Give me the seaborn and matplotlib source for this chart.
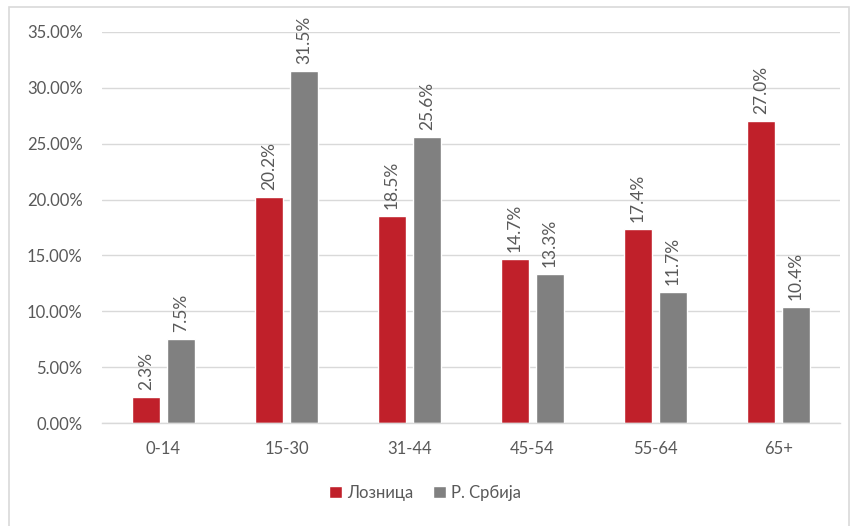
import matplotlib
matplotlib.use("Agg")
import matplotlib.pyplot as plt
from matplotlib.patches import Rectangle
from matplotlib.ticker import FuncFormatter, MultipleLocator
import seaborn as sns
import pandas as pd

# Age structure, share of population (%)
age_groups = ["0-14", "15-30", "31-44", "45-54", "55-64", "65+"]
loznica = [2.3, 20.2, 18.5, 14.7, 17.4, 27.0]
srbija = [7.5, 31.5, 25.6, 13.3, 11.7, 10.4]
series_names = ["Лозница", "Р. Србија"]
colors = ["#C0202A", "#808080"]

df = pd.DataFrame({
    "age": age_groups * 2,
    "share": loznica + srbija,
    "region": [series_names[0]] * len(age_groups) + [series_names[1]] * len(age_groups),
})

sns.set_theme(style="white")
plt.rcParams["font.family"] = ["Lato", "DejaVu Sans"]
text_color = "#595959"

fig = plt.figure(figsize=(8.5, 5.26), dpi=100)
ax = fig.add_axes([102 / 850, 1 - 423 / 526, 738 / 850, (423 - 32) / 526])

sns.barplot(data=df, x="age", y="share", hue="region", order=age_groups,
            hue_order=series_names, palette=colors, width=0.57, gap=0.2,
            saturation=1, ax=ax, legend=True)

ax.set_ylim(0, 35)
ax.yaxis.set_major_locator(MultipleLocator(5))
ax.yaxis.set_major_formatter(FuncFormatter(lambda v, _: f"{v:.2f}%"))
ax.grid(axis="y", color="#D9D9D9", linewidth=1)
ax.set_axisbelow(True)
for side in ["top", "right", "left"]:
    ax.spines[side].set_visible(False)
ax.spines["bottom"].set_color("#D9D9D9")
ax.spines["bottom"].set_linewidth(1)
ax.set_xlabel("")
ax.set_ylabel("")
ax.tick_params(axis="both", length=0, labelsize=12, colors=text_color)
ax.tick_params(axis="y", pad=14)
ax.tick_params(axis="x", pad=13)

# Value labels above each bar, rotated
for container in ax.containers:
    for bar in container:
        h = bar.get_height()
        ax.annotate(f"{h:.1f}%", (bar.get_x() + bar.get_width() / 2, h),
                    xytext=(0, 5), textcoords="offset points",
                    rotation=90, ha="center", va="bottom",
                    fontsize=12.5, color=text_color)

leg = ax.legend(loc="center", bbox_to_anchor=(0.5, (526 - 493) / 526),
                bbox_transform=fig.transFigure, ncol=2, frameon=False,
                fontsize=12, handlelength=0.75, handleheight=0.75,
                handletextpad=0.3, columnspacing=1.2)
for t in leg.get_texts():
    t.set_color(text_color)

# Chart area border
fig.patches.append(Rectangle((9 / 850, -0.02), 840 / 850, 1 - 7 / 526 + 0.02,
                             transform=fig.transFigure, fill=False,
                             edgecolor="#D9D9D9", linewidth=1.2))

fig.savefig("out.png", dpi=100)
